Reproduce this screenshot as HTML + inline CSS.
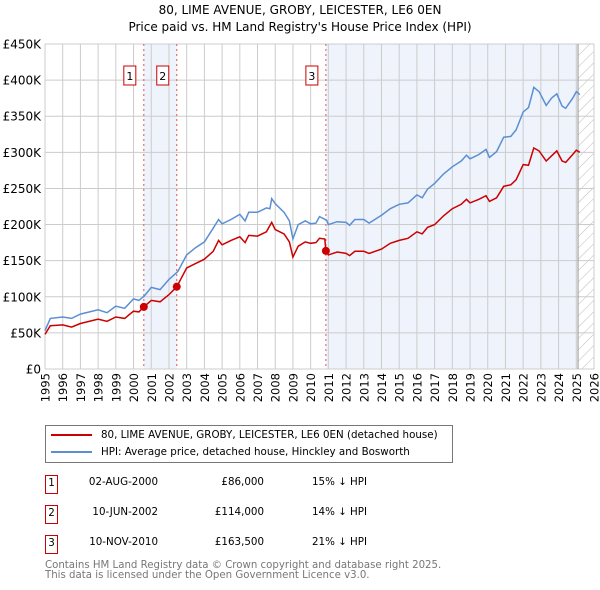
<!DOCTYPE html>
<html><head><meta charset="utf-8">
<style>
body{margin:0;background:#fff;font-family:"DejaVu Sans","Liberation Sans",sans-serif;}
#wrap{position:relative;width:600px;height:590px;overflow:hidden;}
.t{position:absolute;white-space:nowrap;color:#000;}
</style></head>
<body>
<div id="wrap">
<div class="t" style="left:0;width:600px;text-align:center;top:3px;font-size:12px;">80, LIME AVENUE, GROBY, LEICESTER, LE6 0EN</div>
<div class="t" style="left:0;width:600px;text-align:center;top:20px;font-size:12px;">Price paid vs. HM Land Registry's House Price Index (HPI)</div>
<svg id="chart" width="600" height="410" style="position:absolute;left:0;top:0" font-family="DejaVu Sans, Liberation Sans, sans-serif">
<defs><pattern id="hatch" width="8" height="8" patternUnits="userSpaceOnUse" patternTransform="rotate(45)"><line x1="0" y1="0" x2="0" y2="8" stroke="#bbb" stroke-width="1"/></pattern></defs>
</svg>
<div style="position:absolute;left:45px;top:425px;width:406px;height:36px;border:1px solid #777;">
<div style="position:absolute;left:5px;top:3px;font-size:10.3px;white-space:nowrap;line-height:13px;"><span style="display:inline-block;width:41px;height:2px;background:#cc0000;vertical-align:middle;margin-right:9px;"></span>80, LIME AVENUE, GROBY, LEICESTER, LE6 0EN (detached house)</div>
<div style="position:absolute;left:5px;top:20px;font-size:10.3px;white-space:nowrap;line-height:13px;"><span style="display:inline-block;width:41px;height:2px;background:#5b8fd4;vertical-align:middle;margin-right:9px;"></span>HPI: Average price, detached house, Hinckley and Bosworth</div>
</div>
<div id="table"></div>
<div class="t" style="left:45px;top:561px;font-size:10.2px;color:#777;line-height:10px;">Contains HM Land Registry data © Crown copyright and database right 2025.<br>This data is licensed under the Open Government Licence v3.0.</div>
</div>
<script>
const yTicks=[0,50,100,150,200,250,300,350,400,450];
const yTickLabels=["£0","£50K","£100K","£150K","£200K","£250K","£300K","£350K","£400K","£450K"];
const xYears=[1995,1996,1997,1998,1999,2000,2001,2002,2003,2004,2005,2006,2007,2008,2009,2010,2011,2012,2013,2014,2015,2016,2017,2018,2019,2020,2021,2022,2023,2024,2025,2026];
const hpiT=[1995,1995.3,1996,1996.5,1997,1998,1998.5,1999,1999.5,2000,2000.3,2000.6,2001,2001.5,2002,2002.5,2003,2003.5,2004,2004.5,2004.8,2005,2005.5,2006,2006.3,2006.5,2007,2007.5,2007.7,2007.8,2008,2008.5,2008.8,2009,2009.3,2009.7,2010,2010.3,2010.5,2010.9,2011,2011.5,2012,2012.2,2012.5,2013,2013.3,2014,2014.5,2015,2015.5,2016,2016.3,2016.6,2017,2017.5,2018,2018.5,2018.8,2019,2019.5,2019.9,2020.1,2020.5,2020.9,2021.3,2021.6,2022,2022.3,2022.5,2022.6,2022.9,2023.3,2023.6,2023.9,2024.2,2024.4,2024.8,2025,2025.2];
const hpiV=[53,70,72,70,76,82,78,87,84,97,95,101,113,110,124,135,158,168,176,195,207,201,207,214,205,217,217,223,222,236,229,217,205,180,200,205,201,202,211,206,200,204,203,199,207,207,202,213,222,228,230,241,237,249,257,270,280,288,296,291,297,304,293,301,321,322,331,356,362,380,390,384,365,375,381,364,361,375,384,380];
const ppT=[1995,1995.3,1996,1996.5,1997,1998,1998.5,1999,1999.5,2000,2000.3,2000.58,2001,2001.5,2002,2002.44,2003,2003.5,2004,2004.5,2004.8,2005,2005.5,2006,2006.3,2006.5,2007,2007.5,2007.8,2008,2008.5,2008.8,2009,2009.3,2009.7,2010,2010.3,2010.5,2010.8,2010.86,2011,2011.5,2012,2012.2,2012.5,2013,2013.3,2014,2014.5,2015,2015.5,2016,2016.3,2016.6,2017,2017.5,2018,2018.5,2018.8,2019,2019.5,2019.9,2020.1,2020.5,2020.9,2021.3,2021.6,2022,2022.3,2022.6,2022.9,2023.3,2023.6,2023.9,2024.2,2024.4,2024.8,2025,2025.2];
const ppV=[48,60,61,58,63,69,66,72,70,80,79,86,95,93,103,114,140,146,152,163,178,172,178,183,175,185,184,190,203,193,187,176,155,170,176,174,175,181,180,163.5,158,162,160,157,163,163,160,166,174,178,181,190,187,196,200,212,222,228,235,230,235,240,232,237,253,255,262,283,282,306,302,288,295,302,288,286,297,303,300];
const saleNums=["1","2","3"];
const saleT=[2000.58,2002.44,2010.86];
const saleV=[86,114,163.5];
const saleDates=["02-AUG-2000","10-JUN-2002","10-NOV-2010"];
const salePrices=["£86,000","£114,000","£163,500"];
const saleHpi=["15% ↓ HPI","14% ↓ HPI","21% ↓ HPI"];
const forecastStart=2025.1;

const L=45,R=594,T=44,B=369;
const xs=y=>L+(y-1995)/(2026-1995)*(R-L);
const ys=v=>B-v/450*(B-T);
const svg=document.getElementById('chart');
const NS='http://www.w3.org/2000/svg';
function mk(tag,a){const e=document.createElementNS(NS,tag);for(const k in a)e.setAttribute(k,a[k]);svg.appendChild(e);return e;}
let e;
e=mk('rect',{x:L,y:T,width:R-L,height:B-T,fill:'#fff'});


e=mk('rect',{x:xs(saleT[0]),y:T,width:xs(saleT[1])-xs(saleT[0]),height:B-T,fill:'#eef3fc'});


e=mk('rect',{x:xs(saleT[2]),y:T,width:xs(forecastStart)-xs(saleT[2]),height:B-T,fill:'#eef3fc'});


e=mk('rect',{x:xs(forecastStart),y:T,width:R-xs(forecastStart),height:B-T,fill:'url(#hatch)'});


yTicks.forEach((v,i)=>{
 e=mk('line',{x1:L,x2:R,y1:ys(v),y2:ys(v),stroke:'#ccc','stroke-width':1});
 
 
 e=mk('text',{x:L-4,y:ys(v)+4.5,'text-anchor':'end','font-size':12,fill:'#000'});
 e.textContent=yTickLabels[i];
 
 
});
xYears.forEach(y=>{
 e=mk('line',{x1:xs(y),x2:xs(y),y1:T,y2:B,stroke:'#ccc','stroke-width':1});
 
 
 e=mk('text',{x:0,y:0,'text-anchor':'end','font-size':11.5,fill:'#000',transform:`translate(${xs(y)+4.5},${B+4}) rotate(-90)`});
 e.textContent=y;
 
 
});
e=mk('line',{x1:xs(forecastStart),x2:xs(forecastStart),y1:T,y2:B,stroke:'#999','stroke-width':1});


saleT.forEach((t,i)=>{
 e=mk('line',{x1:xs(t),x2:xs(t),y1:T,y2:B,stroke:'#e05555','stroke-width':1,'stroke-dasharray':'2,3'});
 
 
 e=mk('rect',{x:xs(t)-14-6,y:66,width:12,height:19,fill:'#fff',stroke:'#cc0000','stroke-width':1});
 
 
 e=mk('text',{x:xs(t)-14,y:80,'text-anchor':'middle','font-size':11,fill:'#000'});
 e.textContent=saleNums[i];
 
 
});
function path(ts,vs){return ts.map((t,i)=>(i?'L':'M')+xs(t).toFixed(1)+','+ys(vs[i]).toFixed(1)).join('');}
e=mk('path',{d:path(hpiT,hpiV),fill:'none',stroke:'#5b8fd4','stroke-width':1.5});


e=mk('path',{d:path(ppT,ppV),fill:'none',stroke:'#cc0000','stroke-width':1.5});


saleT.forEach((t,i)=>{
 e=mk('circle',{cx:xs(t),cy:ys(saleV[i]),r:4,fill:'#cc0000'});
 
 
});
const tb=document.getElementById('table');
saleNums.forEach((n,i)=>{
 const top=475+i*30;
 const row=document.createElement('div');
 
 
 row.style.cssText=`position:absolute;left:0;top:${top}px;width:600px;height:20px;font-size:10.3px;line-height:13px;white-space:nowrap;`;
 row.innerHTML=`<div style="position:absolute;left:45px;top:0;width:13px;height:19px;box-sizing:border-box;border:1px solid #cc0000;text-align:center;line-height:15px;">${n}</div>
<div style="position:absolute;left:60px;width:98px;text-align:right;top:1px;">${saleDates[i]}</div>
<div style="position:absolute;left:180px;width:84px;text-align:right;top:1px;">${salePrices[i]}</div>
<div style="position:absolute;left:312px;top:1px;">${saleHpi[i]}</div>`;
 tb.appendChild(row);
});
</script>
</body></html>
